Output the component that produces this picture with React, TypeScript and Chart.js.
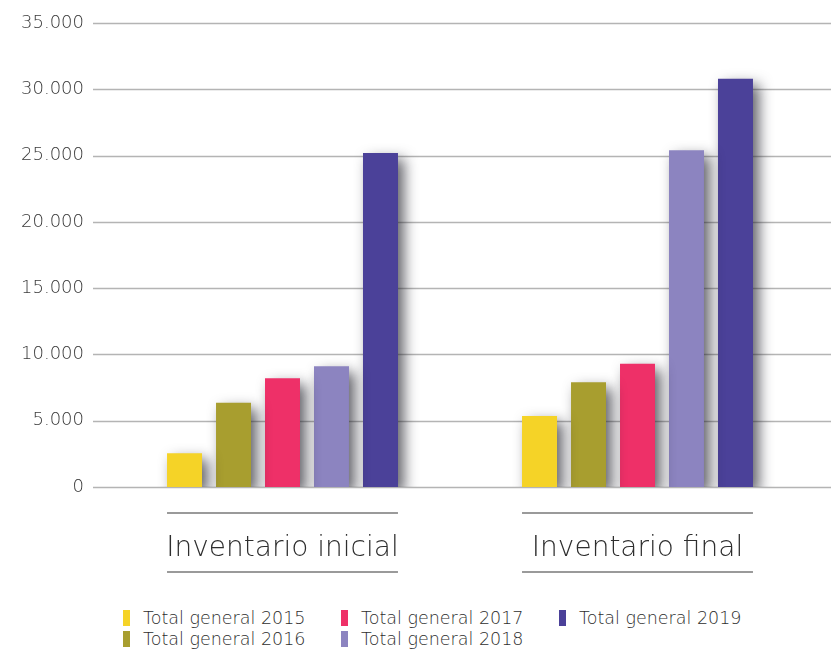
import React, { useEffect, useRef } from 'react';
import { Chart, registerables } from 'chart.js';

Chart.register(...registerables);

const categories = ['Inventario inicial', 'Inventario final'];
const seriesLabels = [
  'Total general 2015',
  'Total general 2016',
  'Total general 2017',
  'Total general 2018',
  'Total general 2019',
];
const values2015 = [2550, 5350];
const values2016 = [6350, 7900];
const values2017 = [8200, 9300];
const values2018 = [9100, 25400];
const values2019 = [25200, 30800];
const seriesColors = ['#F5D327', '#A89E2F', '#EE3068', '#8C84C0', '#4B4199'];
const yMax = 35000;
const yStep = 5000;

const FONT = "'DejaVu Sans', 'Noto Sans', sans-serif";
const WEIGHT = '200';

const fmt = (v: number) => String(v).replace(/\B(?=(\d{3})+(?!\d))/g, '.');

const gridPlugin = {
  id: 'fullGrid',
  beforeDatasetsDraw(chart: any) {
    const { ctx, chartArea } = chart;
    const y = chart.scales.y;
    ctx.save();
    ctx.strokeStyle = '#b4b4b4';
    ctx.lineWidth = 1.5;
    y.ticks.forEach((t: any) => {
      const py = Math.round(y.getPixelForValue(t.value)) + 0.5;
      ctx.beginPath();
      ctx.moveTo(chartArea.left - 12, py);
      ctx.lineTo(chart.width, py);
      ctx.stroke();
    });
    ctx.restore();
  },
};

const shadowPlugin = {
  id: 'barShadow',
  beforeDatasetsDraw(chart: any) {
    const ctx = chart.ctx;
    ctx.save();
    ctx.shadowColor = 'rgba(30,30,40,0.7)';
    ctx.shadowBlur = 14;
    ctx.shadowOffsetX = 6;
    ctx.shadowOffsetY = 6;
  },
  afterDatasetsDraw(chart: any) {
    chart.ctx.restore();
  },
};

const labelLinesPlugin = {
  id: 'labelLines',
  afterDraw(chart: any) {
    const { ctx, chartArea } = chart;
    const n = chart.data.datasets.length;
    ctx.save();
    ctx.strokeStyle = '#9a9a9a';
    ctx.lineWidth = 2;
    categories.forEach((_, i) => {
      const first = chart.getDatasetMeta(0).data[i];
      const last = chart.getDatasetMeta(n - 1).data[i];
      const x1 = first.x - first.width / 2;
      const x2 = last.x + last.width / 2;
      [26, 85].forEach((off) => {
        const py = chartArea.bottom + off;
        ctx.beginPath();
        ctx.moveTo(x1, py);
        ctx.lineTo(x2, py);
        ctx.stroke();
      });
    });
    ctx.restore();
  },
};

export default function App() {
  const ref = useRef<HTMLCanvasElement>(null);

  useEffect(() => {
    document.body.style.margin = '0';
    const seriesValues = [values2015, values2016, values2017, values2018, values2019];
    const chart = new Chart(ref.current as HTMLCanvasElement, {
      type: 'bar',
      data: {
        labels: categories,
        datasets: seriesLabels.map((label, i) => ({
          label,
          data: seriesValues[i],
          backgroundColor: seriesColors[i],
          borderWidth: 0,
          categoryPercentage: 0.69,
          barPercentage: 0.714,
        })),
      },
      options: {
        responsive: false,
        animation: false,
        devicePixelRatio: 1,
        layout: { padding: { top: 23, right: 16, bottom: 0, left: 0 } },
        plugins: {
          legend: { display: false },
          tooltip: { enabled: false },
        },
        scales: {
          x: {
            grid: { display: false },
            border: { display: false },
            ticks: {
              padding: 37,
              color: '#2e2e2e',
              font: { family: FONT, size: 28, weight: WEIGHT as any },
            },
            afterFit: (s: any) => {
              s.height = 113;
              s.paddingLeft = 0;
              s.paddingRight = 0;
            },
          },
          y: {
            min: 0,
            max: yMax,
            grid: { display: false },
            border: { display: false },
            ticks: {
              stepSize: yStep,
              padding: 13,
              color: '#3a3a3a',
              font: { family: FONT, size: 18, weight: WEIGHT as any },
              callback: (v: any) => fmt(Number(v)),
            },
            afterFit: (s: any) => {
              s.width = 105;
              s.paddingTop = 0;
              s.paddingBottom = 0;
            },
          },
        },
      },
      plugins: [gridPlugin, shadowPlugin, labelLinesPlugin],
    });
    return () => chart.destroy();
  }, []);

  return (
    <div style={{ position: 'relative', width: 831, height: 650, background: '#fff' }}>
      <canvas ref={ref} width={831} height={600} style={{ display: 'block' }} />
      <div
        style={{
          position: 'absolute',
          left: 123,
          top: 607,
          display: 'grid',
          gridAutoFlow: 'column',
          gridTemplateRows: 'repeat(2, 21px)',
          gridTemplateColumns: 'repeat(3, 218px)',
          fontFamily: FONT,
          fontWeight: Number(WEIGHT),
          fontSize: 17.5,
          color: '#2e2e2e',
        }}
      >
        {seriesLabels.map((label, i) => (
          <div key={label} style={{ display: 'flex', alignItems: 'center', height: 21, whiteSpace: 'nowrap' }}>
            <span
              style={{
                display: 'inline-block',
                width: 7,
                height: 16,
                background: seriesColors[i],
                marginRight: 13,
              }}
            />
            <span>{label}</span>
          </div>
        ))}
      </div>
    </div>
  );
}
